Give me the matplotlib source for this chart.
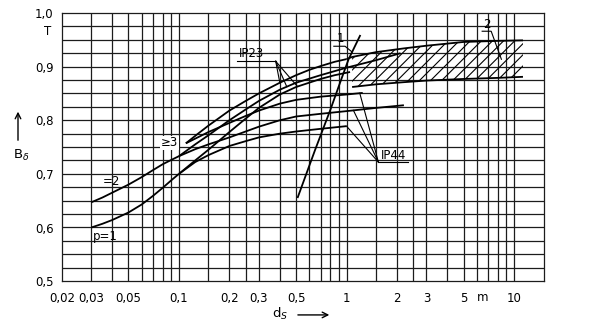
import matplotlib
matplotlib.use('Agg')
import matplotlib.pyplot as plt
import numpy as np

plt.rcParams['font.family'] = ['Liberation Sans Narrow', 'DejaVu Sans']
plt.rcParams['mathtext.fontset'] = 'dejavusans'
plt.rcParams['hatch.linewidth'] = 0.8

# Luftspaltinduktion B_delta (T) über Bohrungsdurchmesser d_s (m)

# gemeinsamer Ast unterhalb d_s = 0,1 m
d_p1 = [0.03, 0.035, 0.04, 0.05, 0.06, 0.07, 0.08, 0.09, 0.1]
b_p1 = [0.600, 0.607, 0.614, 0.628, 0.643, 0.659, 0.674, 0.688, 0.700]
d_p2 = [0.03, 0.035, 0.04, 0.05, 0.06, 0.07, 0.08, 0.09, 0.1]
b_p2 = [0.647, 0.656, 0.665, 0.680, 0.694, 0.707, 0.718, 0.726, 0.733]

# Schutzart IP23
d_ip23_p3 = [0.11, 0.13, 0.15, 0.2, 0.25, 0.3, 0.4, 0.5, 0.6, 0.7, 0.85, 1.0]
b_ip23_p3 = [0.757, 0.775, 0.790, 0.818, 0.836, 0.850, 0.870, 0.884, 0.894, 0.901, 0.909, 0.914]
d_ip23_p2 = [0.1, 0.125, 0.15, 0.2, 0.25, 0.3, 0.4, 0.5, 0.7, 1.0, 1.5, 2.1]
b_ip23_p2 = [0.733, 0.755, 0.772, 0.800, 0.820, 0.836, 0.857, 0.870, 0.884, 0.898, 0.912, 0.925]
d_ip23_p1 = [0.1, 0.125, 0.15, 0.2, 0.25, 0.3, 0.4, 0.5, 0.7, 0.85, 1.05]
b_ip23_p1 = [0.700, 0.725, 0.745, 0.778, 0.803, 0.823, 0.848, 0.862, 0.877, 0.884, 0.890]

# Schutzart IP44
d_ip44_p3 = [0.11, 0.15, 0.2, 0.25, 0.3, 0.4, 0.5, 0.7, 1.0, 1.25]
b_ip44_p3 = [0.757, 0.778, 0.795, 0.808, 0.818, 0.831, 0.838, 0.844, 0.848, 0.851]
d_ip44_p2 = [0.1, 0.125, 0.15, 0.2, 0.3, 0.4, 0.5, 0.7, 1.0, 1.5, 2.2]
b_ip44_p2 = [0.733, 0.746, 0.755, 0.768, 0.788, 0.800, 0.807, 0.812, 0.817, 0.823, 0.828]
d_ip44_p1 = [0.1, 0.125, 0.15, 0.2, 0.25, 0.3, 0.4, 0.5, 0.7, 1.0]
b_ip44_p1 = [0.700, 0.722, 0.735, 0.752, 0.761, 0.768, 0.775, 0.779, 0.784, 0.789]

# Kurve 1
d_k1 = [0.51, 0.65, 0.8, 0.92, 1.03, 1.21]
b_k1 = [0.655, 0.745, 0.819, 0.872, 0.914, 0.959]

# Bereich 2 (schraffiert)
d_band = [1.08, 1.5, 2.2, 3.0, 5.0, 8.0, 11.3]
b_band_lo = [0.862, 0.867, 0.871, 0.874, 0.877, 0.879, 0.881]
b_band_hi = [0.918, 0.927, 0.934, 0.939, 0.946, 0.948, 0.949]

x_ticks = [0.02, 0.03, 0.05, 0.1, 0.2, 0.3, 0.5, 1, 2, 3, 5, 10]
x_labels = ['0,02', '0,03', '0,05', '0,1', '0,2', '0,3', '0,5', '1', '2', '3', '5', '10']
y_ticks = [0.5, 0.6, 0.7, 0.8, 0.9, 1.0]
y_labels = ['0,5', '0,6', '0,7', '0,8', '0,9', '1,0']

grid_x = [0.03, 0.04, 0.05, 0.06, 0.07, 0.08, 0.09, 0.1, 0.15, 0.2, 0.25, 0.3,
          0.4, 0.5, 0.6, 0.7, 0.8, 0.9, 1, 1.5, 2, 2.5, 3, 4, 5, 6, 7, 8, 9, 10]
grid_y = np.arange(0.525, 1.0, 0.025)


def on_curve(ds, bs, d):
    """Wert einer Kurve an der Stelle d (logarithmisch interpoliert)."""
    return np.interp(np.log10(d), np.log10(ds), bs)


fig = plt.figure(figsize=(6.06, 3.25), dpi=100)
ax = fig.add_axes([0.102, 0.135, 0.795, 0.825])
ax.set_xscale('log')
ax.set_xlim(0.02, 15)
ax.set_ylim(0.5, 1.0)

gc = '#1c1c1c'
ax.vlines(grid_x, 0.5, 1.0, color=gc, lw=0.9, zorder=1)
ax.hlines(grid_y, 0.02, 15, color=gc, lw=0.9, zorder=1)
for sp in ax.spines.values():
    sp.set_color(gc)
    sp.set_linewidth(0.9)

ax.set_xticks(x_ticks, labels=x_labels)
ax.xaxis.set_minor_locator(matplotlib.ticker.NullLocator())
ax.set_yticks(y_ticks, labels=y_labels)
ax.tick_params(axis='x', length=0, pad=8, labelsize=8.5)
ax.tick_params(axis='y', length=0, pad=6, labelsize=8.5)

lw = 1.3
kw = dict(color='black', lw=lw, zorder=3, solid_capstyle='butt', solid_joinstyle='round')
for ds, bs in [(d_p1, b_p1), (d_p2, b_p2),
               (d_ip23_p3, b_ip23_p3), (d_ip23_p2, b_ip23_p2), (d_ip23_p1, b_ip23_p1),
               (d_ip44_p3, b_ip44_p3), (d_ip44_p2, b_ip44_p2), (d_ip44_p1, b_ip44_p1),
               (d_k1, b_k1)]:
    ax.plot(ds, bs, **kw)

# Bereich 2
ax.plot(d_band, b_band_lo, **kw)
ax.plot([d_ip23_p3[-1]] + d_band, [b_ip23_p3[-1]] + b_band_hi, **kw)
ax.fill_between(d_band, b_band_lo, b_band_hi, facecolor='none',
                edgecolor='black', hatch='///', linewidth=0, zorder=2)

fs = 8.5
ax.text(0.0394, 0.686, '=2', fontsize=fs, ha='center', va='center', zorder=4)
ax.text(0.0365, 0.584, 'p=1', fontsize=fs, ha='center', va='center', zorder=4)
ax.text(0.088, 0.758, '≥3', fontsize=fs, ha='center', va='center', zorder=4,
        bbox=dict(fc='white', ec='none', pad=0.5))

lk = dict(color='black', lw=0.8, zorder=4)

# IP23
ax.text(0.27, 0.925, 'IP23', fontsize=fs, ha='center', va='center', zorder=4)
u0, u1, uy = 0.221, 0.378, 0.910
ax.plot([u0, u1], [uy, uy], **lk)
for ds, bs, d in [(d_ip23_p3, b_ip23_p3, 0.40), (d_ip23_p2, b_ip23_p2, 0.44),
                  (d_ip23_p1, b_ip23_p1, 0.51)]:
    ax.plot([u1, d], [uy, on_curve(ds, bs, d)], **lk)

# IP44
ax.text(1.92, 0.734, 'IP44', fontsize=fs, ha='center', va='center', zorder=4)
u0, u1, uy = 1.55, 2.32, 0.722
ax.plot([u0, u1], [uy, uy], **lk)
for ds, bs, d in [(d_ip44_p1, b_ip44_p1, 1.0), (d_ip44_p2, b_ip44_p2, 1.1),
                  (d_ip44_p3, b_ip44_p3, 1.2)]:
    ax.plot([u0, d], [uy, on_curve(ds, bs, d)], **lk)

# Kurve 1
ax.text(0.92, 0.952, '1', fontsize=fs, ha='center', va='center', zorder=4)
ax.plot([0.84, 0.98, 1.08], [0.938, 0.938, on_curve(d_k1, b_k1, 1.08)], **lk)

# Bereich 2
ax.text(6.9, 0.979, '2', fontsize=fs, ha='center', va='center', zorder=4)
mid = 0.5 * (on_curve(d_band, b_band_lo, 8.4) + on_curve(d_band, b_band_hi, 8.4))
ax.plot([6.45, 7.3, 8.4], [0.966, 0.966, mid], **lk)

# Einheiten und Achsbezeichnungen
ax.text(-0.021, 0.965, 'T', fontsize=fs, ha='right', va='center',
        transform=ax.get_yaxis_transform())
ax.text(6.5, -0.06, 'm', fontsize=fs, ha='center', va='center',
        transform=ax.get_xaxis_transform())

fig.text(0.035, 0.523, r'B$_\delta$', fontsize=9.5, ha='center', va='center')
ax.annotate('', xy=(0.0297, 0.665), xytext=(0.0297, 0.56), xycoords='figure fraction',
            arrowprops=dict(arrowstyle='->', color='black', lw=1.0))
fig.text(0.462, 0.034, r'd$_S$', fontsize=9.5, ha='center', va='center')
ax.annotate('', xy=(0.548, 0.031), xytext=(0.487, 0.031), xycoords='figure fraction',
            arrowprops=dict(arrowstyle='->', color='black', lw=1.0))

fig.savefig('out.png', dpi=100, facecolor='white')
